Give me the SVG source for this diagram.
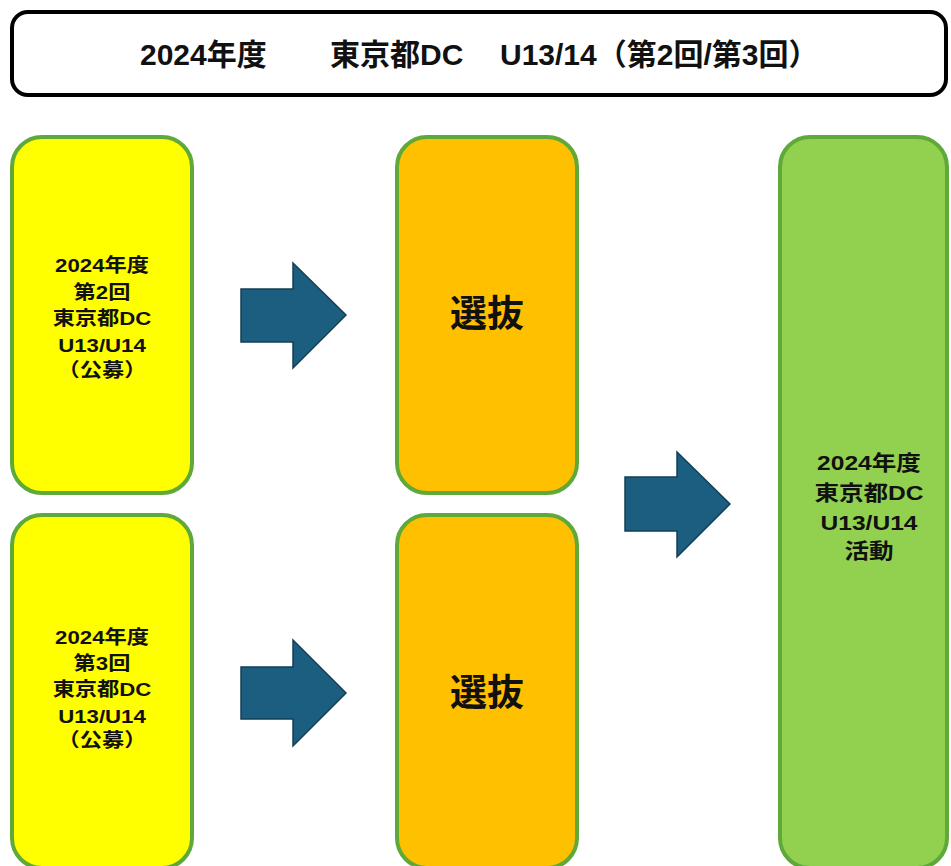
<svg xmlns="http://www.w3.org/2000/svg" width="951" height="866" viewBox="0 0 951 866">
<style>
.t{font-family:"Liberation Sans","Noto Sans CJK JP",sans-serif;font-weight:bold;fill:#111;text-anchor:middle}
.ts{font-family:"Liberation Sans","Noto Sans CJK JP",sans-serif;font-weight:bold;fill:#111;font-size:30px}
.box{stroke:#5fa83a;stroke-width:4}
.arr{fill:#1b5e80;stroke:#153f57;stroke-width:1.5}
</style>
<rect width="951" height="866" fill="#fff"/>
<g id="title">
<rect x="12" y="12" width="934" height="83" rx="16" fill="#fff" stroke="#000" stroke-width="4"/>
<text class="ts" y="65"><tspan x="140">2024年度</tspan><tspan x="330">東京都DC</tspan><tspan x="500">U13/14（第2回/第3回）</tspan></text>
</g>
<g id="n1">
<rect class="box" x="12" y="137" width="180" height="356" rx="30" fill="#ffff00"/>
<text class="t" font-size="19" transform="translate(102,0) scale(1.17,1) translate(-102,0)"><tspan x="102" y="272">2024年度</tspan><tspan x="102" y="299">第2回</tspan><tspan x="102" y="325">東京都DC</tspan><tspan x="102" y="352">U13/U14</tspan><tspan x="102" y="377">（公募）</tspan></text>
</g>
<g id="n2">
<rect class="box" x="12" y="515" width="180" height="353" rx="30" fill="#ffff00"/>
<text class="t" font-size="19" transform="translate(102,0) scale(1.17,1) translate(-102,0)"><tspan x="102" y="644">2024年度</tspan><tspan x="102" y="670">第3回</tspan><tspan x="102" y="696">東京都DC</tspan><tspan x="102" y="723">U13/U14</tspan><tspan x="102" y="747">（公募）</tspan></text>
</g>
<g id="s1">
<rect class="box" x="397" y="137" width="180" height="356" rx="30" fill="#ffc000"/>
<text class="t" font-size="37" x="487" y="327">選抜</text>
</g>
<g id="s2">
<rect class="box" x="397" y="515" width="180" height="353" rx="30" fill="#ffc000"/>
<text class="t" font-size="37" x="487" y="706">選抜</text>
</g>
<g id="act">
<rect class="box" x="780" y="137" width="167" height="731" rx="30" fill="#92d050"/>
<text class="t" font-size="21" transform="translate(869,0) scale(1.17,1) translate(-869,0)"><tspan x="869" y="470">2024年度</tspan><tspan x="869" y="500">東京都DC</tspan><tspan x="869" y="530">U13/U14</tspan><tspan x="869" y="558">活動</tspan></text>
</g>
<g id="connectors">
<path class="arr" d="M241,289 H293 V263 L346,315 L293,368 V342 H241 Z"/>
<path class="arr" d="M241,667 H293 V640 L346,693 L293,746 V719 H241 Z"/>
<path class="arr" d="M625,477 H677 V452 L730,504 L677,557 V531 H625 Z"/>
</g>
</svg>
